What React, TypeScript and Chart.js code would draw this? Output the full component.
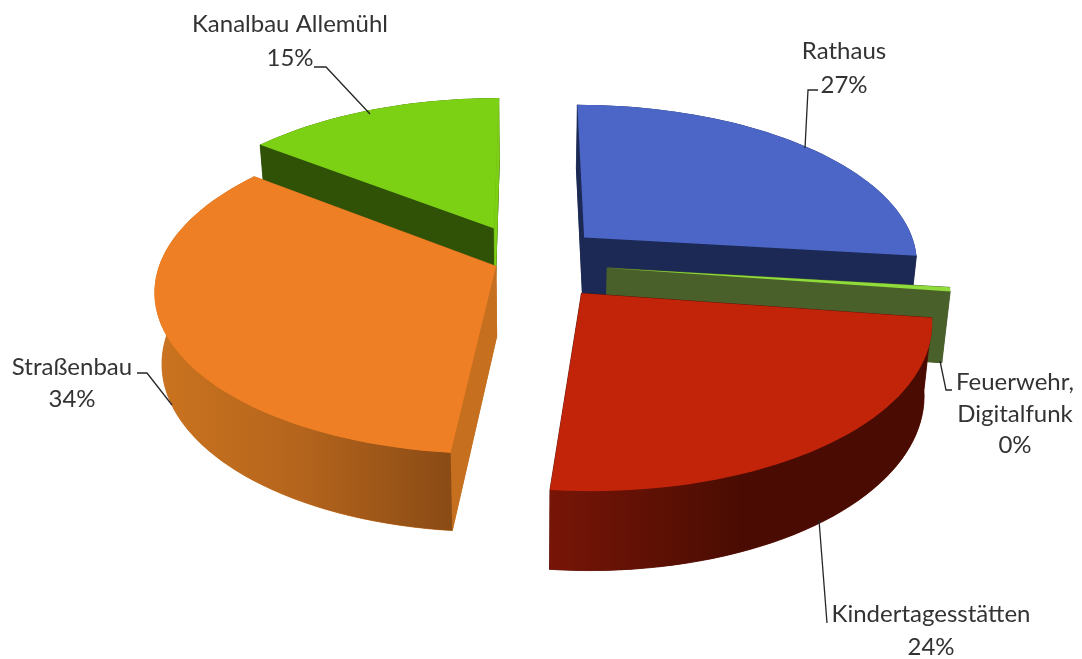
import React, { useEffect, useRef } from "react";
import { Chart, registerables } from "chart.js";

Chart.register(...registerables);

const categories = ["Rathaus", "Feuerwehr, Digitalfunk", "Kindertagesstätten", "Straßenbau", "Kanalbau Allemühl"];
const values = [27, 0.4, 24.4, 34, 14.6];
const explodeU = [0.165, 0.229, 0.149, -0.101, -0.11];
const explodeV = [0.165, -0.031, -0.185, -0.02, 0.224];
const topColors = ["#4b66c6", "#8fdc3b", "#c2240a", "#ee7f24", "#7dd115"];
const cutColors = ["#1c2955", "#4a602b", "#5a1005", "#c56f1f", "#2f5206"];
const wallStops = [
  ["#1c2955", "#1c2955"],
  ["#4a602b", "#4a602b"],
  ["#771507", "#4a0c02", "#4a0c02"],
  ["#cb7420", "#b4641c", "#8a4b15"],
  ["#2f5206", "#2f5206"],
];
const drawOrder = [0, 4, 1, 3, 2];

const view = { cx: 530, cy: 263, rx: 336, ry: 159, k: 0.147, depth: 70, kDepth: 0.1, shrink: 0.98 };
const FONT = "Lato";
const labelLines = [
  { lines: ["Rathaus", "27%"], x: 844, y: [51, 85] },
  { lines: ["Feuerwehr,", "Digitalfunk", "0%"], x: 1015, y: [382, 414, 445] },
  { lines: ["Kindertagesstätten", "24%"], x: 931, y: [614, 647] },
  { lines: ["Straßenbau", "34%"], x: 72, y: [367, 399] },
  { lines: ["Kanalbau Allemühl", "15%"], x: 290, y: [24, 58] },
];
const leaders = [
  [[818, 90], [808, 90], [805, 148]],
  [[940, 361], [946, 390], [952, 390]],
  [[819, 520], [827, 623]],
  [[137, 373], [147, 373], [172, 405]],
  [[314, 67], [326, 67], [370, 114]],
];

function project(u: number, v: number, z: number) {
  const d = 1 + view.k * v;
  const s = z ? view.shrink : 1;
  return {
    x: view.cx + (view.rx * u * s) / d,
    y: view.cy - (view.ry * v) / d + (z * view.depth) / (1 + view.kDepth * v),
  };
}

const pie3d = {
  id: "pie3d",
  beforeDatasetsDraw(chart: any) {
    const ctx = chart.ctx as CanvasRenderingContext2D;
    const arcs = chart.getDatasetMeta(0).data;
    const path = (pts: { x: number; y: number }[]) => {
      ctx.beginPath();
      pts.forEach((p, i) => (i ? ctx.lineTo(p.x, p.y) : ctx.moveTo(p.x, p.y)));
      ctx.closePath();
    };
    const solid = (pts: { x: number; y: number }[], color: string) => {
      ctx.fillStyle = color;
      ctx.strokeStyle = color;
      ctx.lineWidth = 0.8;
      path(pts);
      ctx.fill();
      ctx.stroke();
    };
    for (const i of drawOrder) {
      const arc = arcs[i];
      const ou = explodeU[i];
      const ov = explodeV[i];
      const n = Math.max(2, Math.ceil(((arc.endAngle - arc.startAngle) * 180) / Math.PI / 2));
      const rim = (z: number) => {
        const out = [];
        for (let j = 0; j <= n; j++) {
          const a = arc.startAngle + ((arc.endAngle - arc.startAngle) * j) / n;
          out.push(project(ou + Math.cos(a), ov - Math.sin(a), z));
        }
        return out;
      };
      const topRim = rim(0);
      const botRim = rim(1);
      const apexT = project(ou, ov, 0);
      const apexB = project(ou, ov, 1);

      // bottom and the two cut faces
      solid([apexB, ...botRim], cutColors[i]);
      solid([apexT, topRim[0], botRim[0], apexB], cutColors[i]);
      solid([apexT, topRim[n], botRim[n], apexB], cutColors[i]);

      // outer wall
      const xs = topRim.map((p) => p.x);
      const grad = ctx.createLinearGradient(Math.min(...xs), 0, Math.max(...xs), 0);
      wallStops[i].forEach((c, j) => grad.addColorStop(j / (wallStops[i].length - 1), c));
      ctx.fillStyle = grad;
      path([...topRim, ...botRim.slice().reverse()]);
      ctx.fill();

      // the far-side cut of the green slice reads as a thin bright edge
      if (i === 4) solid([apexT, topRim[n], botRim[n], apexB], topColors[i]);

      // top face
      ctx.fillStyle = topColors[i];
      path([apexT, ...topRim]);
      ctx.fill();
    }
    return false;
  },
  afterDraw(chart: any) {
    const ctx = chart.ctx as CanvasRenderingContext2D;
    ctx.save();
    ctx.strokeStyle = "#262626";
    ctx.lineWidth = 1.3;
    for (const l of leaders) {
      ctx.beginPath();
      l.forEach((p, i) => (i ? ctx.lineTo(p[0], p[1]) : ctx.moveTo(p[0], p[1])));
      ctx.stroke();
    }
    ctx.fillStyle = "#333333";
    ctx.font = `24px ${FONT}`;
    ctx.textAlign = "center";
    ctx.textBaseline = "middle";
    for (const l of labelLines) {
      l.lines.forEach((t, i) => ctx.fillText(t, l.x, l.y[i]));
    }
    ctx.restore();
  },
};

export default function App() {
  const ref = useRef<HTMLCanvasElement>(null);
  useEffect(() => {
    const chart = new Chart(ref.current!, {
      type: "pie",
      data: {
        labels: categories,
        datasets: [{ data: values, backgroundColor: topColors, borderWidth: 0 }],
      },
      options: {
        animation: false,
        responsive: false,
        plugins: { legend: { display: false }, tooltip: { enabled: false } },
      },
      plugins: [pie3d],
    } as any);
    return () => chart.destroy();
  }, []);
  return (
    <div style={{ position: "fixed", left: 0, top: 0, width: 1082, height: 659, background: "#fff" }}>
      <canvas ref={ref} width={1082} height={659} style={{ display: "block", filter: "blur(0.5px)" }} />
    </div>
  );
}
